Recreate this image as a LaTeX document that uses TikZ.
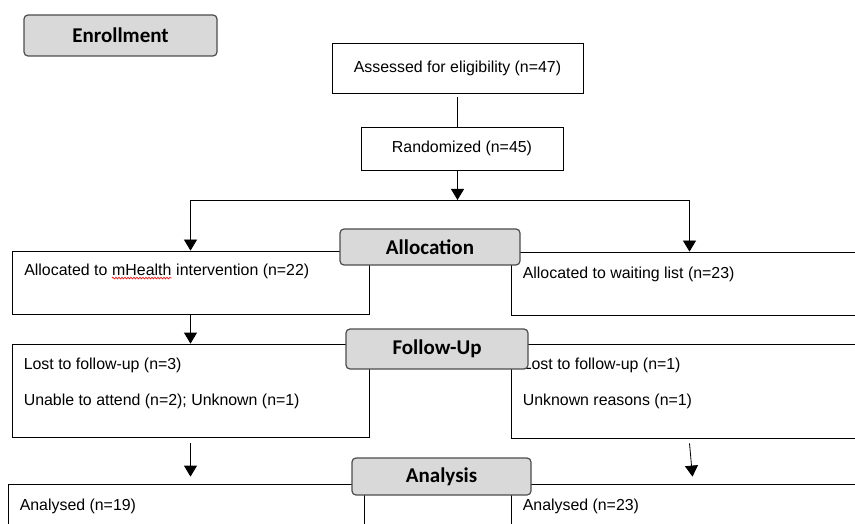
\documentclass[tikz,border=0pt]{standalone}
\usepackage{fontspec}
\setmainfont{Liberation Sans}
\newfontfamily\califont{Carlito}
\usepackage{xcolor}
\usetikzlibrary{arrows.meta,decorations.pathmorphing}
\definecolor{stagefill}{HTML}{D9D9D9}
\definecolor{stageedge}{HTML}{4D4D4D}

\begin{document}
\begin{tikzpicture}[x=1pt,y=-1pt,
	every node/.style={font=\fontsize{15.9}{19}\selectfont},
	box/.style={draw,line width=0.8pt,inner sep=0pt},
	stage/.style={draw=stageedge,line width=1.2pt,fill=stagefill,rounded corners=4pt,
		font=\califont\bfseries\fontsize{21}{25}\selectfont},
	txt/.style={inner sep=0pt,anchor=base west},
	arr/.style={line width=0.8pt,-{Triangle[width=13pt,length=11pt]}},
	squig/.style={red,line width=0.6pt,decorate,
		decoration={snake,amplitude=0.9pt,segment length=3pt}}]
				\useasboundingbox (0,0) rectangle (855,524);
				\clip (0,0) rectangle (855,524);
				
				% enrollment
				\node[box,minimum width=251pt,minimum height=50pt] (assess) at (457.5,68) {Assessed for eligibility (n=47)};
				\node[box,minimum width=202pt,minimum height=43pt] (rand) at (462,148.5) {Randomized (n=45)};
				\coordinate (split) at (457.5,200);
				
				% the two arms
				\foreach \n/\x/\y/\w/\h in
				{lalloc/190.5/282.5/357/63, ralloc/689.5/283.5/357/63,
				 lfol/190.5/390.5/357/93, rfol/689.5/391/357/94,
				 lana/186/522/356/76, rana/689.5/522/357/76}{
					\node[box,minimum width=\w pt,minimum height=\h pt] (\n) at (\x,\y) {};
				}
				
				% texts in the boxes
				\node[txt] (la1) at ([xshift=12.5pt,yshift=-25pt]lalloc.north west) {Allocated to\ \null};
				\node[txt] (mh) at (la1.base east) {mHealth};
				\node[txt] (la2) at (mh.base east) {\ intervention (n=22)};
				\draw[squig] ([yshift=-2.5pt]mh.base west) -- ([yshift=-2.5pt]mh.base east);
				\foreach \n/\b/\dy/\t in
				{ra/ralloc/26.5/Allocated to waiting list (n=23),
				 lf1/lfol/26/Lost to follow-up (n=3),
				 lf2/lfol/62/Unable to attend (n=2); Unknown (n=1),
				 rf1/rfol/26/Lost to follow-up (n=1),
				 rf2/rfol/62/Unknown reasons (n=1),
				 lan/lana/27/Analysed (n=19),
				 ran/rana/27/Analysed (n=23)}{
					\node[txt] (\n) at ([xshift=12pt,yshift=-\dy pt]\b.north west) {\t};
				}
				
				% connectors
				\draw[line width=0.8pt,shorten <=3.5pt] (assess.south) -- (assess.south |- rand.north);
				\draw[arr] (assess.south |- rand.south) -- (split);
				\draw[line width=0.8pt] (lalloc.north |- split) -- (ralloc.north |- split);
				\draw[arr] (lalloc.north |- split) -- (lalloc.north);
				\draw[arr] (ralloc.north |- split) -- (ralloc.north);
				\draw[arr] (lalloc.south) -- (lfol.north);
				\draw[arr] ([yshift=-6pt]lfol.south) -- ([yshift=7pt]lfol.south |- lana.north);
				\draw[arr] ([yshift=-5pt]rfol.south) -- ([xshift=3pt,yshift=7pt]rana.north);
				
				% stage labels
				\foreach \n/\t/\x/\y/\w/\h in
				{enr/Enrollment/120.5/35.5/193/41, alloc/Allocation/430/247/180/36,
				 fol/Follow-Up/437/349/182/40, ana/Analysis/441.5/476.5/179/37}{
					\node[stage,minimum width=\w pt,minimum height=\h pt] (\n) at (\x,\y) {\t};
				}
			\end{tikzpicture}
\end{document}
